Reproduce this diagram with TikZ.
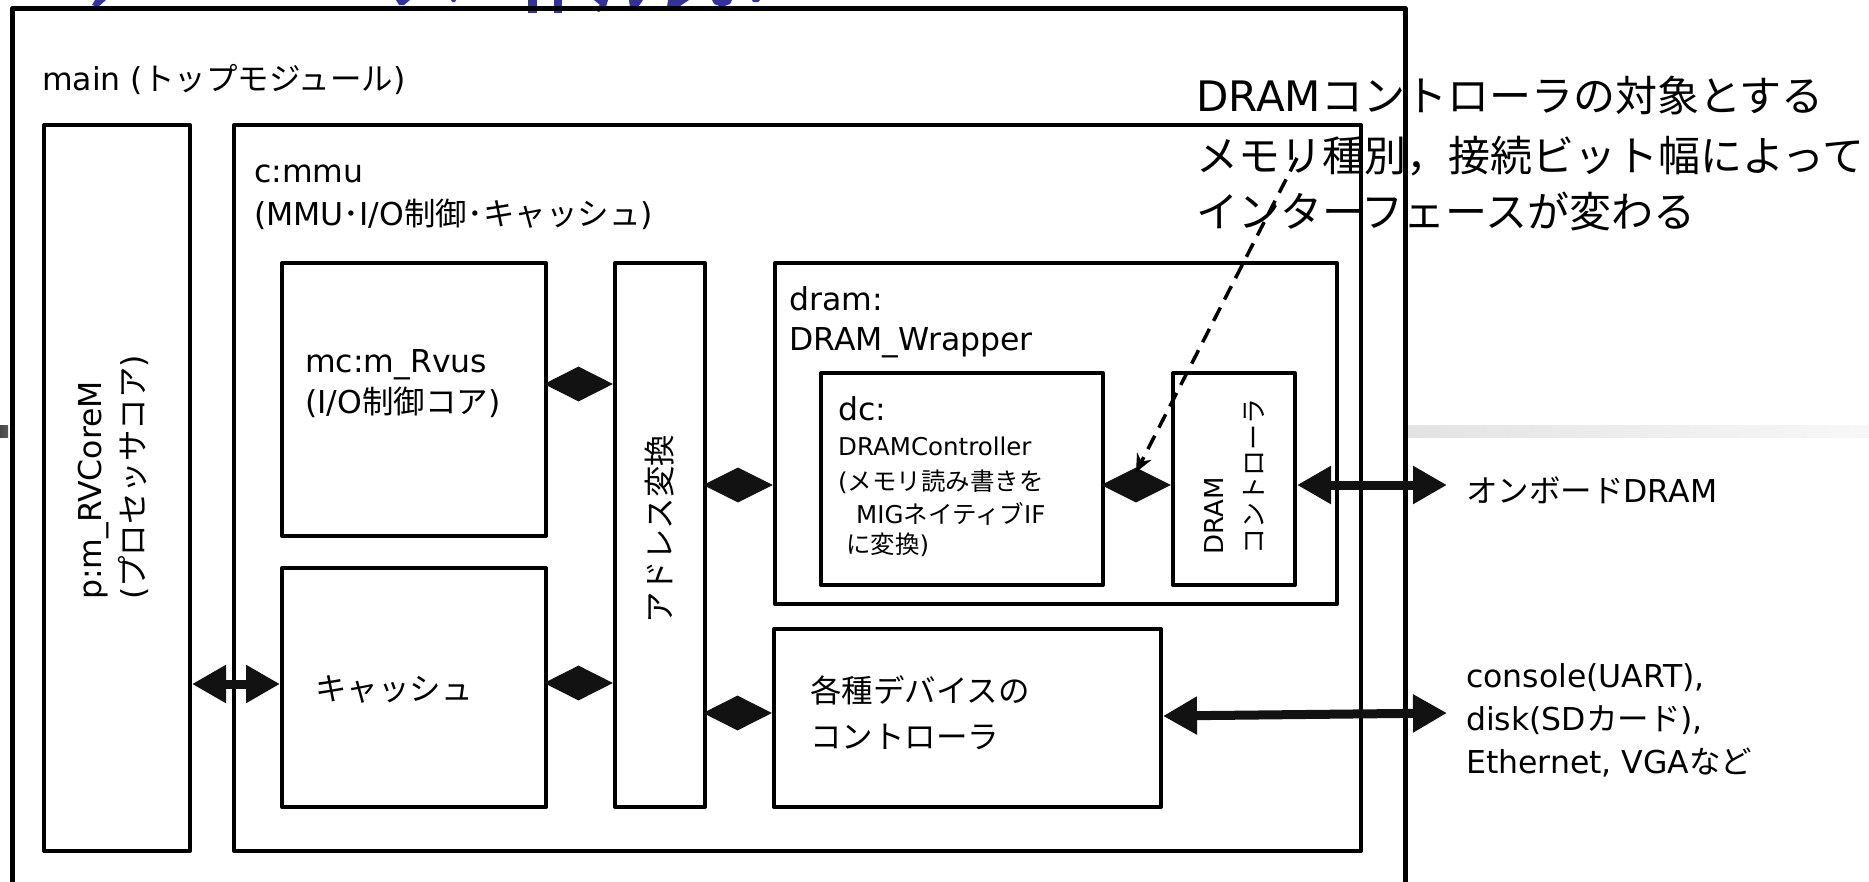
\documentclass[tikz,border=0pt]{standalone}
\usepackage{fontspec}
\setmainfont{DejaVu Sans}
\newfontfamily\jpfont{Noto Sans CJK JP}
\newcommand\J[1]{{\jpfont #1}}
\usetikzlibrary{arrows.meta,shapes.geometric}
\definecolor{titleblue}{RGB}{51,51,153}
\begin{document}
\begin{tikzpicture}[x=1pt,y=-1pt,
  box/.style={draw=black, line width=4pt, line join=round, inner sep=0pt, anchor=north west},
  txt/.style={inner sep=0pt, anchor=base west, font=\fontsize{31.5}{38}\selectfont},
  small/.style={inner sep=0pt, anchor=base west, font=\fontsize{24.5}{30}\selectfont},
  big/.style={inner sep=0pt, anchor=base west, font=\fontsize{42}{50}\selectfont},
  dia/.style={diamond, fill=black!93, draw=none, inner sep=0pt, minimum height=35pt},
  dbl/.style={draw=black!93, line width=9pt, {Triangle[length=34pt,width=36pt]}-{Triangle[length=34pt,width=36pt]}},
  dashedarrow/.style={draw=black, line width=3.5pt, dash pattern=on 15pt off 9pt, -{Stealth[length=18pt,width=16pt]}},
  frag/.style={fill=titleblue, draw=none}
]
\useasboundingbox (0,0) rectangle (1869,881);
% slide decoration band
\shade[left color=black!72, right color=black!65] (0,425) rectangle (8,437);
\shade[left color=black!11, right color=black!3] (1406,425) rectangle (1869,437);
% cut-off title fragments
\fill[frag] (95,0) -- (106,0) -- (98,7) -- (92,5) -- cycle;
\fill[frag] (396,0) -- (410,0) -- (404,5) -- (399,5) -- cycle;
\fill[frag] (451,0) -- (456,0) -- (455,2) -- (452,2) -- cycle;
\fill[frag] (528,0) rectangle (537,13);
\fill[frag] (554,0) rectangle (562,13);
\fill[frag] (594,0) -- (608,0) -- (606,7) -- (599,12) -- (594,10) -- (600,5) -- cycle;
\fill[frag] (629,0) -- (643,0) -- (636,10) -- (630,8) -- cycle;
\fill[frag] (668,0) -- (689,0) -- (674,10) -- (667,7) -- cycle;
\fill[frag] (712,0) -- (732,0) -- (730,4) -- (722,7) -- (714,4) -- cycle;
\fill[frag] (752,0) -- (760,0) -- (758,2) -- (753,2) -- cycle;

% boxes
\node[box, line width=4.5pt, minimum width=1393pt, minimum height=877pt] (main) at (10,6) {};
\node[box, minimum width=146pt, minimum height=726pt] (p) at (42,123) {};
\node[box, minimum width=1127pt, minimum height=726pt] (mmu) at (232,123) {};
\node[box, minimum width=264pt, minimum height=273pt] (mc) at (280,261) {};
\node[box, minimum width=264pt, minimum height=239pt] (cache) at (280,566) {};
\node[box, minimum width=90pt, minimum height=544pt] (addr) at (613,261) {};
\node[box, minimum width=562pt, minimum height=341pt] (wrap) at (773,261) {};
\node[box, minimum width=282pt, minimum height=212pt] (dc) at (819,371) {};
\node[box, minimum width=122pt, minimum height=212pt] (drc) at (1171,371) {};
\node[box, minimum width=387pt, minimum height=178pt] (dev) at (772,627) {};

% diamonds
\node[dia, minimum width=69pt] (d1) at (578.5,384) {};
\node[dia, minimum width=69pt] (d2) at (578.5,683) {};
\node[dia, minimum width=70pt] (d3) at (738,485) {};
\node[dia, minimum width=69pt] (d4) at (737.5,713) {};
\node[dia, minimum width=70pt] (d5) at (1136,485) {};

% external ends
\coordinate (ext1) at (1447,485);
\coordinate (ext2) at (1447,713);
\coordinate (callout) at (1297,158);

% double arrows
\draw[dbl] (p.east |- 0,684) -- (cache.west |- 0,684);
\draw[dbl] (drc.east |- ext1) -- (ext1);
\draw[dbl] (dev.east |- 0,716) -- (ext2);

% texts
\node[txt] (tmain) at (42,90) {main (\J{トップモジュール})};
\node[txt] (tmmu1) at (254,182) {c:mmu};
\node[txt] (tmmu2) at (254,225) {(MMU\J{･}I/O\J{制御･キャッシュ})};
\node[txt] (tmc1) at (305,372) {mc:m\_Rvus};
\node[txt] (tmc2) at (305,413) {(I/O\J{制御コア})};
\node[txt] (tcache) at (315,700) {\J{キャッシュ}};
\node[txt, rotate=90, anchor=center] (taddr) at (660,529) {\J{アドレス変換}};
\node[txt] (twr1) at (789,310) {dram:};
\node[txt] (twr2) at (789,350) {DRAM\_Wrapper};
\node[txt] (tdc1) at (838,420) {dc:};
\node[small] (tdc2) at (838,455) {DRAMController};
\node[small] (tdc3) at (838,490) {(\J{メモリ読み書きを}};
\node[small] (tdc4) at (856,523) {MIG\J{ネイティブ}IF};
\node[small] (tdc5) at (846,553) {\J{に変換})};
\node[rotate=90, anchor=west, align=left, font=\fontsize{26}{40}\selectfont, inner sep=0pt] (tdrc) at (1235,555) {DRAM\\\J{コントローラ}};
\node[rotate=90, anchor=west, align=left, font=\fontsize{31.5}{43}\selectfont, inner sep=0pt] (tp) at (113.5,600) {p:m\_RVCoreM\\(\J{プロセッサコア})};
\node[txt] (tdev1) at (810,702) {\J{各種デバイスの}};
\node[txt] (tdev2) at (810,748) {\J{コントローラ}};
\node[txt] (tdram) at (1466,502) {\J{オンボード}DRAM};
\node[txt] (tio1) at (1466,687) {console(UART),};
\node[txt] (tio2) at (1466,730) {disk(SD\J{カード}),};
\node[txt] (tio3) at (1466,773) {Ethernet, VGA\J{など}};
\node[big] (cl1) at (1196,111) {DRAM\J{コントローラの対象とする}};
\node[big] (cl2) at (1196,171) {\J{メモリ種別，接続ビット幅によって}};
\node[big] (cl3) at (1196,227) {\J{インターフェースが変わる}};

% dashed callout arrow
\draw[dashedarrow] (callout) -- ([yshift=-5pt]d5.north);
\end{tikzpicture}
\end{document}
